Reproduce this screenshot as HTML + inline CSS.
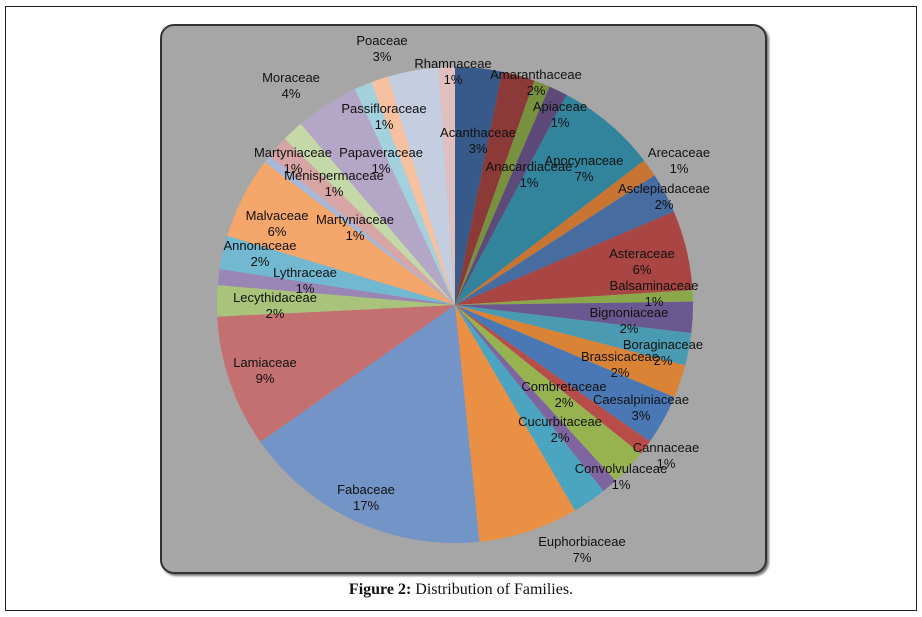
<!DOCTYPE html>
<html><head><meta charset="utf-8">
<style>
html,body{margin:0;padding:0;background:#fff;}
body{width:922px;height:617px;position:relative;overflow:hidden;}
#outer{position:absolute;left:5px;top:6px;width:910px;height:603px;border:1px solid #222;}
#box{position:absolute;left:160px;top:24px;width:603px;height:546px;background:#a6a6a6;border:2px solid #333;border-radius:14px;box-shadow:2px 2px 2px #777;}
svg{position:absolute;left:0;top:0;}
#cap{position:absolute;left:0;width:922px;top:581px;text-align:center;font-family:"Liberation Serif",serif;font-size:16px;color:#111;}
</style></head><body>
<div id="outer"></div>
<div id="box"></div>
<svg id="s" width="922" height="617" xmlns="http://www.w3.org/2000/svg"><g id="p"></g>
<g font-family="Liberation Sans, sans-serif" font-size="13" fill="#111" text-anchor="middle">
<text x="382" y="45">Poaceae</text><text x="382" y="61">3%</text>
<text x="453" y="68">Rhamnaceae</text><text x="453" y="84">1%</text>
<text x="536" y="79">Amaranthaceae</text><text x="536" y="95">2%</text>
<text x="560" y="111">Apiaceae</text><text x="560" y="127">1%</text>
<text x="478" y="137">Acanthaceae</text><text x="478" y="153">3%</text>
<text x="584" y="165">Apocynaceae</text><text x="584" y="181">7%</text>
<text x="529" y="171">Anacardiaceae</text><text x="529" y="187">1%</text>
<text x="679" y="157">Arecaceae</text><text x="679" y="173">1%</text>
<text x="664" y="193">Asclepiadaceae</text><text x="664" y="209">2%</text>
<text x="642" y="258">Asteraceae</text><text x="642" y="274">6%</text>
<text x="654" y="290">Balsaminaceae</text><text x="654" y="306">1%</text>
<text x="629" y="317">Bignoniaceae</text><text x="629" y="333">2%</text>
<text x="663" y="349">Boraginaceae</text><text x="663" y="365">2%</text>
<text x="620" y="361">Brassicaceae</text><text x="620" y="377">2%</text>
<text x="564" y="391">Combretaceae</text><text x="564" y="407">2%</text>
<text x="641" y="404">Caesalpiniaceae</text><text x="641" y="420">3%</text>
<text x="560" y="426">Cucurbitaceae</text><text x="560" y="442">2%</text>
<text x="666" y="452">Cannaceae</text><text x="666" y="468">1%</text>
<text x="621" y="473">Convolvulaceae</text><text x="621" y="489">1%</text>
<text x="366" y="494">Fabaceae</text><text x="366" y="510">17%</text>
<text x="582" y="546">Euphorbiaceae</text><text x="582" y="562">7%</text>
<text x="265" y="367">Lamiaceae</text><text x="265" y="383">9%</text>
<text x="275" y="302">Lecythidaceae</text><text x="275" y="318">2%</text>
<text x="305" y="277">Lythraceae</text><text x="305" y="293">1%</text>
<text x="260" y="250">Annonaceae</text><text x="260" y="266">2%</text>
<text x="277" y="220">Malvaceae</text><text x="277" y="236">6%</text>
<text x="355" y="224">Martyniaceae</text><text x="355" y="240">1%</text>
<text x="293" y="157">Martyniaceae</text><text x="293" y="173">1%</text>
<text x="381" y="157">Papaveraceae</text><text x="381" y="173">1%</text>
<text x="334" y="180">Menispermaceae</text><text x="334" y="196">1%</text>
<text x="384" y="113">Passifloraceae</text><text x="384" y="129">1%</text>
<text x="291" y="82">Moraceae</text><text x="291" y="98">4%</text>
</g></svg>
<div id="cap"><b>Figure 2:</b> Distribution of Families.</div>
<script>
var b=[0,11.4,19.5,23.4,28,52.6,57,66.9,86.4,89.2,96.8,104.7,112.8,125,128.7,137.6,141.4,149.7,174.1,234.9,267.2,274.8,278.7,286.9,306.9,308.8,314.3,319.6,335.1,339.4,343.7,356,360];
var c=["#375a8a","#8b3a38","#77913f","#5e4a78","#31849b","#c87533","#466ca0","#a94542","#8aa84a","#6a5890","#4a9ab2","#d98337","#4a78b5","#b84c48","#97b34f","#7e65a0","#4ba5c0","#ea9044","#7394c6","#c47070","#a9c47a","#9a86b5","#72b8d0","#f5a66a","#a8b8d9","#d6a5a4","#c4d8a8","#b3a6c6","#a4d1de","#f5c1a0","#c5cde0","#e0c0be"];
var cx=455,cy=305,r=238,g=document.getElementById('p'),h='';
function pt(a){a=a*Math.PI/180;return (cx+r*Math.sin(a)).toFixed(2)+','+(cy-r*Math.cos(a)).toFixed(2);}
for(var i=0;i<c.length;i++){var a0=b[i],a1=b[i+1];h+='<path d="M'+cx+','+cy+' L'+pt(a0)+' A'+r+','+r+' 0 '+((a1-a0)>180?1:0)+',1 '+pt(a1)+' Z" fill="'+c[i]+'"/>';}
g.innerHTML=h;
</script>
</body></html>
